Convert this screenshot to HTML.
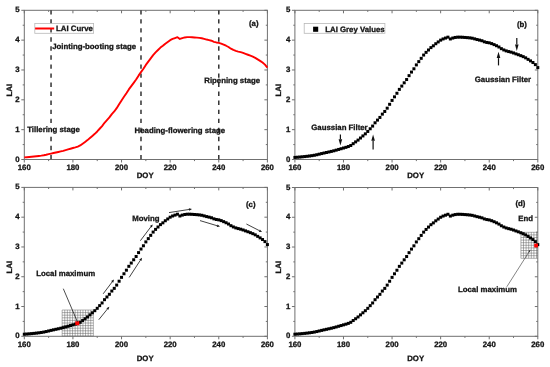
<!DOCTYPE html>
<html><head><meta charset="utf-8"><style>
html,body{margin:0;padding:0;background:#fff;}
svg{display:block;filter:blur(0.45px);}
text{font-family:"Liberation Sans",sans-serif;font-weight:bold;font-size:7.8px;fill:#141414;stroke:#141414;stroke-width:0.3px;text-rendering:geometricPrecision;}
</style></head><body>
<svg width="550" height="367" viewBox="0 0 550 367">
<rect width="550" height="367" fill="#fff"/>
<rect x="24.30" y="10.30" width="243.10" height="149.20" fill="none" stroke="#707070" stroke-width="1"/>
<line x1="24.30" y1="159.50" x2="24.30" y2="162.50" stroke="#707070" stroke-width="1" />
<line x1="24.30" y1="10.30" x2="24.30" y2="13.30" stroke="#707070" stroke-width="1" />
<text x="24.30" y="169.80" text-anchor="middle" >160</text>
<line x1="48.61" y1="159.50" x2="48.61" y2="161.10" stroke="#707070" stroke-width="1" />
<line x1="48.61" y1="10.30" x2="48.61" y2="11.90" stroke="#707070" stroke-width="1" />
<line x1="72.92" y1="159.50" x2="72.92" y2="162.50" stroke="#707070" stroke-width="1" />
<line x1="72.92" y1="10.30" x2="72.92" y2="13.30" stroke="#707070" stroke-width="1" />
<text x="72.92" y="169.80" text-anchor="middle" >180</text>
<line x1="97.23" y1="159.50" x2="97.23" y2="161.10" stroke="#707070" stroke-width="1" />
<line x1="97.23" y1="10.30" x2="97.23" y2="11.90" stroke="#707070" stroke-width="1" />
<line x1="121.54" y1="159.50" x2="121.54" y2="162.50" stroke="#707070" stroke-width="1" />
<line x1="121.54" y1="10.30" x2="121.54" y2="13.30" stroke="#707070" stroke-width="1" />
<text x="121.54" y="169.80" text-anchor="middle" >200</text>
<line x1="145.85" y1="159.50" x2="145.85" y2="161.10" stroke="#707070" stroke-width="1" />
<line x1="145.85" y1="10.30" x2="145.85" y2="11.90" stroke="#707070" stroke-width="1" />
<line x1="170.16" y1="159.50" x2="170.16" y2="162.50" stroke="#707070" stroke-width="1" />
<line x1="170.16" y1="10.30" x2="170.16" y2="13.30" stroke="#707070" stroke-width="1" />
<text x="170.16" y="169.80" text-anchor="middle" >220</text>
<line x1="194.47" y1="159.50" x2="194.47" y2="161.10" stroke="#707070" stroke-width="1" />
<line x1="194.47" y1="10.30" x2="194.47" y2="11.90" stroke="#707070" stroke-width="1" />
<line x1="218.78" y1="159.50" x2="218.78" y2="162.50" stroke="#707070" stroke-width="1" />
<line x1="218.78" y1="10.30" x2="218.78" y2="13.30" stroke="#707070" stroke-width="1" />
<text x="218.78" y="169.80" text-anchor="middle" >240</text>
<line x1="243.09" y1="159.50" x2="243.09" y2="161.10" stroke="#707070" stroke-width="1" />
<line x1="243.09" y1="10.30" x2="243.09" y2="11.90" stroke="#707070" stroke-width="1" />
<line x1="267.40" y1="159.50" x2="267.40" y2="162.50" stroke="#707070" stroke-width="1" />
<line x1="267.40" y1="10.30" x2="267.40" y2="13.30" stroke="#707070" stroke-width="1" />
<text x="267.40" y="169.80" text-anchor="middle" >260</text>
<line x1="21.30" y1="159.50" x2="24.30" y2="159.50" stroke="#707070" stroke-width="1" />
<line x1="264.40" y1="159.50" x2="267.40" y2="159.50" stroke="#707070" stroke-width="1" />
<text x="19.70" y="161.55" text-anchor="end" >0</text>
<line x1="22.70" y1="144.58" x2="24.30" y2="144.58" stroke="#707070" stroke-width="1" />
<line x1="265.80" y1="144.58" x2="267.40" y2="144.58" stroke="#707070" stroke-width="1" />
<line x1="21.30" y1="129.66" x2="24.30" y2="129.66" stroke="#707070" stroke-width="1" />
<line x1="264.40" y1="129.66" x2="267.40" y2="129.66" stroke="#707070" stroke-width="1" />
<text x="19.70" y="131.71" text-anchor="end" >1</text>
<line x1="22.70" y1="114.74" x2="24.30" y2="114.74" stroke="#707070" stroke-width="1" />
<line x1="265.80" y1="114.74" x2="267.40" y2="114.74" stroke="#707070" stroke-width="1" />
<line x1="21.30" y1="99.82" x2="24.30" y2="99.82" stroke="#707070" stroke-width="1" />
<line x1="264.40" y1="99.82" x2="267.40" y2="99.82" stroke="#707070" stroke-width="1" />
<text x="19.70" y="101.87" text-anchor="end" >2</text>
<line x1="22.70" y1="84.90" x2="24.30" y2="84.90" stroke="#707070" stroke-width="1" />
<line x1="265.80" y1="84.90" x2="267.40" y2="84.90" stroke="#707070" stroke-width="1" />
<line x1="21.30" y1="69.98" x2="24.30" y2="69.98" stroke="#707070" stroke-width="1" />
<line x1="264.40" y1="69.98" x2="267.40" y2="69.98" stroke="#707070" stroke-width="1" />
<text x="19.70" y="72.03" text-anchor="end" >3</text>
<line x1="22.70" y1="55.06" x2="24.30" y2="55.06" stroke="#707070" stroke-width="1" />
<line x1="265.80" y1="55.06" x2="267.40" y2="55.06" stroke="#707070" stroke-width="1" />
<line x1="21.30" y1="40.14" x2="24.30" y2="40.14" stroke="#707070" stroke-width="1" />
<line x1="264.40" y1="40.14" x2="267.40" y2="40.14" stroke="#707070" stroke-width="1" />
<text x="19.70" y="42.19" text-anchor="end" >4</text>
<line x1="22.70" y1="25.22" x2="24.30" y2="25.22" stroke="#707070" stroke-width="1" />
<line x1="265.80" y1="25.22" x2="267.40" y2="25.22" stroke="#707070" stroke-width="1" />
<line x1="21.30" y1="10.30" x2="24.30" y2="10.30" stroke="#707070" stroke-width="1" />
<line x1="264.40" y1="10.30" x2="267.40" y2="10.30" stroke="#707070" stroke-width="1" />
<text x="19.70" y="12.35" text-anchor="end" >5</text>
<text x="145.15" y="178.10" text-anchor="middle" >DOY</text>
<text x="0" y="0" text-anchor="middle" transform="translate(12.10,90.20) rotate(-90)">LAI</text>
<line x1="51.04" y1="10.30" x2="51.04" y2="159.50" stroke="#333" stroke-width="1.5" stroke-dasharray="4.4 4.65" stroke-dashoffset="0.2"/>
<line x1="140.99" y1="10.30" x2="140.99" y2="159.50" stroke="#333" stroke-width="1.5" stroke-dasharray="4.4 4.65" stroke-dashoffset="0.2"/>
<line x1="218.78" y1="10.30" x2="218.78" y2="159.50" stroke="#333" stroke-width="1.5" stroke-dasharray="4.4 4.65" stroke-dashoffset="0.2"/>
<polyline points="24.30,157.41 26.73,157.24 29.16,157.04 31.59,156.81 34.02,156.57 36.45,156.30 38.89,156.00 41.32,155.66 43.75,155.26 46.18,154.75 48.61,154.17 51.04,153.57 53.47,153.02 55.90,152.49 58.33,151.96 60.77,151.41 63.20,150.81 65.63,150.14 68.06,149.44 70.49,148.73 72.92,148.02 75.35,147.35 77.78,146.54 80.21,145.48 82.64,143.68 85.07,141.89 87.51,140.10 89.94,138.02 92.37,135.93 94.80,133.84 97.23,131.45 99.66,128.76 102.09,126.08 104.52,122.80 106.95,120.11 109.38,117.43 111.82,114.14 114.25,111.46 116.68,108.18 119.11,104.30 121.54,100.42 123.97,96.84 126.40,93.26 128.83,89.38 131.26,86.09 133.69,82.81 136.13,79.53 138.56,75.65 140.99,72.07 143.42,68.79 145.85,64.91 148.28,61.62 150.71,58.34 153.14,55.06 155.57,52.37 158.00,49.99 160.44,47.60 162.87,45.81 165.30,43.72 167.73,41.93 170.16,40.14 172.59,38.95 175.02,38.05 177.45,37.16 179.88,38.95 182.31,38.05 184.75,37.45 187.18,37.16 189.61,37.16 192.04,37.26 194.47,37.45 196.90,37.64 199.33,37.87 201.76,38.22 204.19,38.86 206.62,39.54 209.06,40.10 211.49,40.74 213.92,41.80 216.35,42.45 218.78,42.83 221.21,43.60 223.64,44.62 226.07,45.72 228.50,47.00 230.93,48.66 233.37,49.93 235.80,50.88 238.23,51.56 240.66,52.16 243.09,52.96 245.52,53.87 247.95,54.74 250.38,55.66 252.81,56.65 255.24,57.84 257.68,59.35 260.11,60.89 262.54,62.52 264.97,64.61 267.40,67.59" fill="none" stroke="#ff0000" stroke-width="1.9" stroke-linejoin="round"/>
<rect x="34.8" y="23.5" width="58.8" height="9.8" fill="none" stroke="#b8b8b8" stroke-width="0.8"/>
<line x1="35.10" y1="28.50" x2="54.20" y2="28.50" stroke="#ff0000" stroke-width="2" />
<text x="56.10" y="31.40" text-anchor="start" >LAI Curve</text>
<text x="52.20" y="49.10" text-anchor="start" >Jointing-booting stage</text>
<rect x="27" y="126" width="53" height="8.5" fill="#fff"/>
<text x="27.20" y="132.30" text-anchor="start" >Tillering stage</text>
<text x="134.60" y="132.50" text-anchor="start" >Heading-flowering stage</text>
<text x="204.30" y="82.90" text-anchor="start" >Ripening stage</text>
<text x="249.00" y="25.50" text-anchor="start" >(a)</text>
<rect x="294.90" y="10.30" width="242.90" height="149.20" fill="none" stroke="#707070" stroke-width="1"/>
<line x1="294.90" y1="159.50" x2="294.90" y2="162.50" stroke="#707070" stroke-width="1" />
<line x1="294.90" y1="10.30" x2="294.90" y2="13.30" stroke="#707070" stroke-width="1" />
<text x="294.90" y="169.80" text-anchor="middle" >160</text>
<line x1="319.19" y1="159.50" x2="319.19" y2="161.10" stroke="#707070" stroke-width="1" />
<line x1="319.19" y1="10.30" x2="319.19" y2="11.90" stroke="#707070" stroke-width="1" />
<line x1="343.48" y1="159.50" x2="343.48" y2="162.50" stroke="#707070" stroke-width="1" />
<line x1="343.48" y1="10.30" x2="343.48" y2="13.30" stroke="#707070" stroke-width="1" />
<text x="343.48" y="169.80" text-anchor="middle" >180</text>
<line x1="367.77" y1="159.50" x2="367.77" y2="161.10" stroke="#707070" stroke-width="1" />
<line x1="367.77" y1="10.30" x2="367.77" y2="11.90" stroke="#707070" stroke-width="1" />
<line x1="392.06" y1="159.50" x2="392.06" y2="162.50" stroke="#707070" stroke-width="1" />
<line x1="392.06" y1="10.30" x2="392.06" y2="13.30" stroke="#707070" stroke-width="1" />
<text x="392.06" y="169.80" text-anchor="middle" >200</text>
<line x1="416.35" y1="159.50" x2="416.35" y2="161.10" stroke="#707070" stroke-width="1" />
<line x1="416.35" y1="10.30" x2="416.35" y2="11.90" stroke="#707070" stroke-width="1" />
<line x1="440.64" y1="159.50" x2="440.64" y2="162.50" stroke="#707070" stroke-width="1" />
<line x1="440.64" y1="10.30" x2="440.64" y2="13.30" stroke="#707070" stroke-width="1" />
<text x="440.64" y="169.80" text-anchor="middle" >220</text>
<line x1="464.93" y1="159.50" x2="464.93" y2="161.10" stroke="#707070" stroke-width="1" />
<line x1="464.93" y1="10.30" x2="464.93" y2="11.90" stroke="#707070" stroke-width="1" />
<line x1="489.22" y1="159.50" x2="489.22" y2="162.50" stroke="#707070" stroke-width="1" />
<line x1="489.22" y1="10.30" x2="489.22" y2="13.30" stroke="#707070" stroke-width="1" />
<text x="489.22" y="169.80" text-anchor="middle" >240</text>
<line x1="513.51" y1="159.50" x2="513.51" y2="161.10" stroke="#707070" stroke-width="1" />
<line x1="513.51" y1="10.30" x2="513.51" y2="11.90" stroke="#707070" stroke-width="1" />
<line x1="537.80" y1="159.50" x2="537.80" y2="162.50" stroke="#707070" stroke-width="1" />
<line x1="537.80" y1="10.30" x2="537.80" y2="13.30" stroke="#707070" stroke-width="1" />
<text x="537.80" y="169.80" text-anchor="middle" >260</text>
<line x1="291.90" y1="159.50" x2="294.90" y2="159.50" stroke="#707070" stroke-width="1" />
<line x1="534.80" y1="159.50" x2="537.80" y2="159.50" stroke="#707070" stroke-width="1" />
<text x="290.30" y="161.55" text-anchor="end" >0</text>
<line x1="293.30" y1="144.58" x2="294.90" y2="144.58" stroke="#707070" stroke-width="1" />
<line x1="536.20" y1="144.58" x2="537.80" y2="144.58" stroke="#707070" stroke-width="1" />
<line x1="291.90" y1="129.66" x2="294.90" y2="129.66" stroke="#707070" stroke-width="1" />
<line x1="534.80" y1="129.66" x2="537.80" y2="129.66" stroke="#707070" stroke-width="1" />
<text x="290.30" y="131.71" text-anchor="end" >1</text>
<line x1="293.30" y1="114.74" x2="294.90" y2="114.74" stroke="#707070" stroke-width="1" />
<line x1="536.20" y1="114.74" x2="537.80" y2="114.74" stroke="#707070" stroke-width="1" />
<line x1="291.90" y1="99.82" x2="294.90" y2="99.82" stroke="#707070" stroke-width="1" />
<line x1="534.80" y1="99.82" x2="537.80" y2="99.82" stroke="#707070" stroke-width="1" />
<text x="290.30" y="101.87" text-anchor="end" >2</text>
<line x1="293.30" y1="84.90" x2="294.90" y2="84.90" stroke="#707070" stroke-width="1" />
<line x1="536.20" y1="84.90" x2="537.80" y2="84.90" stroke="#707070" stroke-width="1" />
<line x1="291.90" y1="69.98" x2="294.90" y2="69.98" stroke="#707070" stroke-width="1" />
<line x1="534.80" y1="69.98" x2="537.80" y2="69.98" stroke="#707070" stroke-width="1" />
<text x="290.30" y="72.03" text-anchor="end" >3</text>
<line x1="293.30" y1="55.06" x2="294.90" y2="55.06" stroke="#707070" stroke-width="1" />
<line x1="536.20" y1="55.06" x2="537.80" y2="55.06" stroke="#707070" stroke-width="1" />
<line x1="291.90" y1="40.14" x2="294.90" y2="40.14" stroke="#707070" stroke-width="1" />
<line x1="534.80" y1="40.14" x2="537.80" y2="40.14" stroke="#707070" stroke-width="1" />
<text x="290.30" y="42.19" text-anchor="end" >4</text>
<line x1="293.30" y1="25.22" x2="294.90" y2="25.22" stroke="#707070" stroke-width="1" />
<line x1="536.20" y1="25.22" x2="537.80" y2="25.22" stroke="#707070" stroke-width="1" />
<line x1="291.90" y1="10.30" x2="294.90" y2="10.30" stroke="#707070" stroke-width="1" />
<line x1="534.80" y1="10.30" x2="537.80" y2="10.30" stroke="#707070" stroke-width="1" />
<text x="290.30" y="12.35" text-anchor="end" >5</text>
<text x="415.65" y="178.10" text-anchor="middle" >DOY</text>
<text x="0" y="0" text-anchor="middle" transform="translate(281.20,90.20) rotate(-90)">LAI</text>
<rect x="293.40" y="155.91" width="3.0" height="3.0"/>
<rect x="295.83" y="155.74" width="3.0" height="3.0"/>
<rect x="298.26" y="155.54" width="3.0" height="3.0"/>
<rect x="300.69" y="155.31" width="3.0" height="3.0"/>
<rect x="303.12" y="155.07" width="3.0" height="3.0"/>
<rect x="305.54" y="154.80" width="3.0" height="3.0"/>
<rect x="307.97" y="154.50" width="3.0" height="3.0"/>
<rect x="310.40" y="154.16" width="3.0" height="3.0"/>
<rect x="312.83" y="153.76" width="3.0" height="3.0"/>
<rect x="315.26" y="153.25" width="3.0" height="3.0"/>
<rect x="317.69" y="152.67" width="3.0" height="3.0"/>
<rect x="320.12" y="152.07" width="3.0" height="3.0"/>
<rect x="322.55" y="151.52" width="3.0" height="3.0"/>
<rect x="324.98" y="150.99" width="3.0" height="3.0"/>
<rect x="327.41" y="150.46" width="3.0" height="3.0"/>
<rect x="329.83" y="149.91" width="3.0" height="3.0"/>
<rect x="332.26" y="149.31" width="3.0" height="3.0"/>
<rect x="334.69" y="148.64" width="3.0" height="3.0"/>
<rect x="337.12" y="147.94" width="3.0" height="3.0"/>
<rect x="339.55" y="147.23" width="3.0" height="3.0"/>
<rect x="341.98" y="146.52" width="3.0" height="3.0"/>
<rect x="344.41" y="145.85" width="3.0" height="3.0"/>
<rect x="346.84" y="145.04" width="3.0" height="3.0"/>
<rect x="349.27" y="143.98" width="3.0" height="3.0"/>
<rect x="351.70" y="142.18" width="3.0" height="3.0"/>
<rect x="354.12" y="140.39" width="3.0" height="3.0"/>
<rect x="356.55" y="138.60" width="3.0" height="3.0"/>
<rect x="358.98" y="136.52" width="3.0" height="3.0"/>
<rect x="361.41" y="134.43" width="3.0" height="3.0"/>
<rect x="363.84" y="132.34" width="3.0" height="3.0"/>
<rect x="366.27" y="129.95" width="3.0" height="3.0"/>
<rect x="368.70" y="127.26" width="3.0" height="3.0"/>
<rect x="371.13" y="124.58" width="3.0" height="3.0"/>
<rect x="373.56" y="121.30" width="3.0" height="3.0"/>
<rect x="375.99" y="118.61" width="3.0" height="3.0"/>
<rect x="378.41" y="115.93" width="3.0" height="3.0"/>
<rect x="380.84" y="112.64" width="3.0" height="3.0"/>
<rect x="383.27" y="109.96" width="3.0" height="3.0"/>
<rect x="385.70" y="106.68" width="3.0" height="3.0"/>
<rect x="388.13" y="102.80" width="3.0" height="3.0"/>
<rect x="390.56" y="98.92" width="3.0" height="3.0"/>
<rect x="392.99" y="95.34" width="3.0" height="3.0"/>
<rect x="395.42" y="91.76" width="3.0" height="3.0"/>
<rect x="397.85" y="87.88" width="3.0" height="3.0"/>
<rect x="400.28" y="84.59" width="3.0" height="3.0"/>
<rect x="402.70" y="81.31" width="3.0" height="3.0"/>
<rect x="405.13" y="78.03" width="3.0" height="3.0"/>
<rect x="407.56" y="74.15" width="3.0" height="3.0"/>
<rect x="409.99" y="70.57" width="3.0" height="3.0"/>
<rect x="412.42" y="67.29" width="3.0" height="3.0"/>
<rect x="414.85" y="63.41" width="3.0" height="3.0"/>
<rect x="417.28" y="60.12" width="3.0" height="3.0"/>
<rect x="419.71" y="56.84" width="3.0" height="3.0"/>
<rect x="422.14" y="53.56" width="3.0" height="3.0"/>
<rect x="424.57" y="50.87" width="3.0" height="3.0"/>
<rect x="427.00" y="48.49" width="3.0" height="3.0"/>
<rect x="429.42" y="46.10" width="3.0" height="3.0"/>
<rect x="431.85" y="44.31" width="3.0" height="3.0"/>
<rect x="434.28" y="42.22" width="3.0" height="3.0"/>
<rect x="436.71" y="40.43" width="3.0" height="3.0"/>
<rect x="439.14" y="38.64" width="3.0" height="3.0"/>
<rect x="441.57" y="37.45" width="3.0" height="3.0"/>
<rect x="444.00" y="36.55" width="3.0" height="3.0"/>
<rect x="446.43" y="35.66" width="3.0" height="3.0"/>
<rect x="448.86" y="37.45" width="3.0" height="3.0"/>
<rect x="451.28" y="36.55" width="3.0" height="3.0"/>
<rect x="453.71" y="35.95" width="3.0" height="3.0"/>
<rect x="456.14" y="35.66" width="3.0" height="3.0"/>
<rect x="458.57" y="35.66" width="3.0" height="3.0"/>
<rect x="461.00" y="35.76" width="3.0" height="3.0"/>
<rect x="463.43" y="35.95" width="3.0" height="3.0"/>
<rect x="465.86" y="36.14" width="3.0" height="3.0"/>
<rect x="468.29" y="36.37" width="3.0" height="3.0"/>
<rect x="470.72" y="36.72" width="3.0" height="3.0"/>
<rect x="473.15" y="37.36" width="3.0" height="3.0"/>
<rect x="475.57" y="38.04" width="3.0" height="3.0"/>
<rect x="478.00" y="38.60" width="3.0" height="3.0"/>
<rect x="480.43" y="39.24" width="3.0" height="3.0"/>
<rect x="482.86" y="40.30" width="3.0" height="3.0"/>
<rect x="485.29" y="40.95" width="3.0" height="3.0"/>
<rect x="487.72" y="41.33" width="3.0" height="3.0"/>
<rect x="490.15" y="42.10" width="3.0" height="3.0"/>
<rect x="492.58" y="43.12" width="3.0" height="3.0"/>
<rect x="495.01" y="44.22" width="3.0" height="3.0"/>
<rect x="497.44" y="45.50" width="3.0" height="3.0"/>
<rect x="499.86" y="47.16" width="3.0" height="3.0"/>
<rect x="502.29" y="48.43" width="3.0" height="3.0"/>
<rect x="504.72" y="49.38" width="3.0" height="3.0"/>
<rect x="507.15" y="50.06" width="3.0" height="3.0"/>
<rect x="509.58" y="50.66" width="3.0" height="3.0"/>
<rect x="512.01" y="51.46" width="3.0" height="3.0"/>
<rect x="514.44" y="52.37" width="3.0" height="3.0"/>
<rect x="516.87" y="53.24" width="3.0" height="3.0"/>
<rect x="519.30" y="54.16" width="3.0" height="3.0"/>
<rect x="521.73" y="55.15" width="3.0" height="3.0"/>
<rect x="524.15" y="56.34" width="3.0" height="3.0"/>
<rect x="526.58" y="57.85" width="3.0" height="3.0"/>
<rect x="529.01" y="59.39" width="3.0" height="3.0"/>
<rect x="531.44" y="61.02" width="3.0" height="3.0"/>
<rect x="533.87" y="63.11" width="3.0" height="3.0"/>
<rect x="536.30" y="66.09" width="3.0" height="3.0"/>
<rect x="304.2" y="23.5" width="80.7" height="9.8" fill="none" stroke="#b8b8b8" stroke-width="0.8"/>
<rect x="313.1" y="26.7" width="5.1" height="5.1" fill="#000"/>
<text x="325.30" y="31.50" text-anchor="start" >LAI Grey Values</text>
<text x="311.30" y="129.60" text-anchor="start" >Gaussian Filter</text>
<text x="474.80" y="82.30" text-anchor="start" >Gaussian Filter</text>
<text x="517.00" y="26.55" text-anchor="start" >(b)</text>
<line x1="340.40" y1="134.50" x2="340.40" y2="139.20" stroke="#111" stroke-width="1.2" />
<polygon points="340.40,145.50 338.60,139.20 342.20,139.20" fill="#111"/>
<line x1="373.10" y1="149.60" x2="373.10" y2="140.80" stroke="#111" stroke-width="1.2" />
<polygon points="373.10,134.50 374.90,140.80 371.30,140.80" fill="#111"/>
<line x1="498.50" y1="65.40" x2="498.50" y2="58.10" stroke="#111" stroke-width="1.2" />
<polygon points="498.50,51.80 500.30,58.10 496.70,58.10" fill="#111"/>
<line x1="516.80" y1="38.10" x2="516.80" y2="44.60" stroke="#111" stroke-width="1.2" />
<polygon points="516.80,50.90 515.00,44.60 518.60,44.60" fill="#111"/>
<rect x="24.30" y="187.40" width="243.10" height="148.90" fill="none" stroke="#707070" stroke-width="1"/>
<line x1="24.30" y1="336.30" x2="24.30" y2="339.30" stroke="#707070" stroke-width="1" />
<line x1="24.30" y1="187.40" x2="24.30" y2="190.40" stroke="#707070" stroke-width="1" />
<text x="24.30" y="346.60" text-anchor="middle" >160</text>
<line x1="48.61" y1="336.30" x2="48.61" y2="337.90" stroke="#707070" stroke-width="1" />
<line x1="48.61" y1="187.40" x2="48.61" y2="189.00" stroke="#707070" stroke-width="1" />
<line x1="72.92" y1="336.30" x2="72.92" y2="339.30" stroke="#707070" stroke-width="1" />
<line x1="72.92" y1="187.40" x2="72.92" y2="190.40" stroke="#707070" stroke-width="1" />
<text x="72.92" y="346.60" text-anchor="middle" >180</text>
<line x1="97.23" y1="336.30" x2="97.23" y2="337.90" stroke="#707070" stroke-width="1" />
<line x1="97.23" y1="187.40" x2="97.23" y2="189.00" stroke="#707070" stroke-width="1" />
<line x1="121.54" y1="336.30" x2="121.54" y2="339.30" stroke="#707070" stroke-width="1" />
<line x1="121.54" y1="187.40" x2="121.54" y2="190.40" stroke="#707070" stroke-width="1" />
<text x="121.54" y="346.60" text-anchor="middle" >200</text>
<line x1="145.85" y1="336.30" x2="145.85" y2="337.90" stroke="#707070" stroke-width="1" />
<line x1="145.85" y1="187.40" x2="145.85" y2="189.00" stroke="#707070" stroke-width="1" />
<line x1="170.16" y1="336.30" x2="170.16" y2="339.30" stroke="#707070" stroke-width="1" />
<line x1="170.16" y1="187.40" x2="170.16" y2="190.40" stroke="#707070" stroke-width="1" />
<text x="170.16" y="346.60" text-anchor="middle" >220</text>
<line x1="194.47" y1="336.30" x2="194.47" y2="337.90" stroke="#707070" stroke-width="1" />
<line x1="194.47" y1="187.40" x2="194.47" y2="189.00" stroke="#707070" stroke-width="1" />
<line x1="218.78" y1="336.30" x2="218.78" y2="339.30" stroke="#707070" stroke-width="1" />
<line x1="218.78" y1="187.40" x2="218.78" y2="190.40" stroke="#707070" stroke-width="1" />
<text x="218.78" y="346.60" text-anchor="middle" >240</text>
<line x1="243.09" y1="336.30" x2="243.09" y2="337.90" stroke="#707070" stroke-width="1" />
<line x1="243.09" y1="187.40" x2="243.09" y2="189.00" stroke="#707070" stroke-width="1" />
<line x1="267.40" y1="336.30" x2="267.40" y2="339.30" stroke="#707070" stroke-width="1" />
<line x1="267.40" y1="187.40" x2="267.40" y2="190.40" stroke="#707070" stroke-width="1" />
<text x="267.40" y="346.60" text-anchor="middle" >260</text>
<line x1="21.30" y1="336.30" x2="24.30" y2="336.30" stroke="#707070" stroke-width="1" />
<line x1="264.40" y1="336.30" x2="267.40" y2="336.30" stroke="#707070" stroke-width="1" />
<text x="19.70" y="338.35" text-anchor="end" >0</text>
<line x1="22.70" y1="321.41" x2="24.30" y2="321.41" stroke="#707070" stroke-width="1" />
<line x1="265.80" y1="321.41" x2="267.40" y2="321.41" stroke="#707070" stroke-width="1" />
<line x1="21.30" y1="306.52" x2="24.30" y2="306.52" stroke="#707070" stroke-width="1" />
<line x1="264.40" y1="306.52" x2="267.40" y2="306.52" stroke="#707070" stroke-width="1" />
<text x="19.70" y="308.57" text-anchor="end" >1</text>
<line x1="22.70" y1="291.63" x2="24.30" y2="291.63" stroke="#707070" stroke-width="1" />
<line x1="265.80" y1="291.63" x2="267.40" y2="291.63" stroke="#707070" stroke-width="1" />
<line x1="21.30" y1="276.74" x2="24.30" y2="276.74" stroke="#707070" stroke-width="1" />
<line x1="264.40" y1="276.74" x2="267.40" y2="276.74" stroke="#707070" stroke-width="1" />
<text x="19.70" y="278.79" text-anchor="end" >2</text>
<line x1="22.70" y1="261.85" x2="24.30" y2="261.85" stroke="#707070" stroke-width="1" />
<line x1="265.80" y1="261.85" x2="267.40" y2="261.85" stroke="#707070" stroke-width="1" />
<line x1="21.30" y1="246.96" x2="24.30" y2="246.96" stroke="#707070" stroke-width="1" />
<line x1="264.40" y1="246.96" x2="267.40" y2="246.96" stroke="#707070" stroke-width="1" />
<text x="19.70" y="249.01" text-anchor="end" >3</text>
<line x1="22.70" y1="232.07" x2="24.30" y2="232.07" stroke="#707070" stroke-width="1" />
<line x1="265.80" y1="232.07" x2="267.40" y2="232.07" stroke="#707070" stroke-width="1" />
<line x1="21.30" y1="217.18" x2="24.30" y2="217.18" stroke="#707070" stroke-width="1" />
<line x1="264.40" y1="217.18" x2="267.40" y2="217.18" stroke="#707070" stroke-width="1" />
<text x="19.70" y="219.23" text-anchor="end" >4</text>
<line x1="22.70" y1="202.29" x2="24.30" y2="202.29" stroke="#707070" stroke-width="1" />
<line x1="265.80" y1="202.29" x2="267.40" y2="202.29" stroke="#707070" stroke-width="1" />
<line x1="21.30" y1="187.40" x2="24.30" y2="187.40" stroke="#707070" stroke-width="1" />
<line x1="264.40" y1="187.40" x2="267.40" y2="187.40" stroke="#707070" stroke-width="1" />
<text x="19.70" y="189.45" text-anchor="end" >5</text>
<text x="145.15" y="361.30" text-anchor="middle" >DOY</text>
<text x="0" y="0" text-anchor="middle" transform="translate(12.10,267.15) rotate(-90)">LAI</text>
<g stroke="#606060" stroke-width="0.5"><line x1="62.15" y1="310.00" x2="62.15" y2="336.00"/><line x1="64.75" y1="310.00" x2="64.75" y2="336.00"/><line x1="67.35" y1="310.00" x2="67.35" y2="336.00"/><line x1="69.95" y1="310.00" x2="69.95" y2="336.00"/><line x1="72.55" y1="310.00" x2="72.55" y2="336.00"/><line x1="75.15" y1="310.00" x2="75.15" y2="336.00"/><line x1="77.75" y1="310.00" x2="77.75" y2="336.00"/><line x1="80.35" y1="310.00" x2="80.35" y2="336.00"/><line x1="82.95" y1="310.00" x2="82.95" y2="336.00"/><line x1="85.55" y1="310.00" x2="85.55" y2="336.00"/><line x1="88.15" y1="310.00" x2="88.15" y2="336.00"/><line x1="90.75" y1="310.00" x2="90.75" y2="336.00"/><line x1="93.35" y1="310.00" x2="93.35" y2="336.00"/><line x1="62.15" y1="310.00" x2="93.35" y2="310.00"/><line x1="62.15" y1="312.60" x2="93.35" y2="312.60"/><line x1="62.15" y1="315.20" x2="93.35" y2="315.20"/><line x1="62.15" y1="317.80" x2="93.35" y2="317.80"/><line x1="62.15" y1="320.40" x2="93.35" y2="320.40"/><line x1="62.15" y1="323.00" x2="93.35" y2="323.00"/><line x1="62.15" y1="325.60" x2="93.35" y2="325.60"/><line x1="62.15" y1="328.20" x2="93.35" y2="328.20"/><line x1="62.15" y1="330.80" x2="93.35" y2="330.80"/><line x1="62.15" y1="333.40" x2="93.35" y2="333.40"/><line x1="62.15" y1="336.00" x2="93.35" y2="336.00"/></g>
<rect x="22.80" y="332.72" width="3.0" height="3.0"/>
<rect x="25.23" y="332.54" width="3.0" height="3.0"/>
<rect x="27.66" y="332.34" width="3.0" height="3.0"/>
<rect x="30.09" y="332.12" width="3.0" height="3.0"/>
<rect x="32.52" y="331.88" width="3.0" height="3.0"/>
<rect x="34.95" y="331.61" width="3.0" height="3.0"/>
<rect x="37.39" y="331.31" width="3.0" height="3.0"/>
<rect x="39.82" y="330.97" width="3.0" height="3.0"/>
<rect x="42.25" y="330.57" width="3.0" height="3.0"/>
<rect x="44.68" y="330.06" width="3.0" height="3.0"/>
<rect x="47.11" y="329.48" width="3.0" height="3.0"/>
<rect x="49.54" y="328.88" width="3.0" height="3.0"/>
<rect x="51.97" y="328.33" width="3.0" height="3.0"/>
<rect x="54.40" y="327.80" width="3.0" height="3.0"/>
<rect x="56.83" y="327.28" width="3.0" height="3.0"/>
<rect x="59.27" y="326.72" width="3.0" height="3.0"/>
<rect x="61.70" y="326.13" width="3.0" height="3.0"/>
<rect x="64.13" y="325.46" width="3.0" height="3.0"/>
<rect x="66.56" y="324.76" width="3.0" height="3.0"/>
<rect x="68.99" y="324.05" width="3.0" height="3.0"/>
<rect x="71.42" y="323.35" width="3.0" height="3.0"/>
<rect x="73.85" y="322.67" width="3.0" height="3.0"/>
<rect x="76.28" y="321.87" width="3.0" height="3.0"/>
<rect x="78.71" y="320.80" width="3.0" height="3.0"/>
<rect x="81.14" y="319.02" width="3.0" height="3.0"/>
<rect x="83.57" y="317.23" width="3.0" height="3.0"/>
<rect x="86.01" y="315.44" width="3.0" height="3.0"/>
<rect x="88.44" y="313.36" width="3.0" height="3.0"/>
<rect x="90.87" y="311.27" width="3.0" height="3.0"/>
<rect x="93.30" y="309.19" width="3.0" height="3.0"/>
<rect x="95.73" y="306.81" width="3.0" height="3.0"/>
<rect x="98.16" y="304.13" width="3.0" height="3.0"/>
<rect x="100.59" y="301.45" width="3.0" height="3.0"/>
<rect x="103.02" y="298.17" width="3.0" height="3.0"/>
<rect x="105.45" y="295.49" width="3.0" height="3.0"/>
<rect x="107.88" y="292.81" width="3.0" height="3.0"/>
<rect x="110.32" y="289.53" width="3.0" height="3.0"/>
<rect x="112.75" y="286.85" width="3.0" height="3.0"/>
<rect x="115.18" y="283.58" width="3.0" height="3.0"/>
<rect x="117.61" y="279.71" width="3.0" height="3.0"/>
<rect x="120.04" y="275.84" width="3.0" height="3.0"/>
<rect x="122.47" y="272.26" width="3.0" height="3.0"/>
<rect x="124.90" y="268.69" width="3.0" height="3.0"/>
<rect x="127.33" y="264.82" width="3.0" height="3.0"/>
<rect x="129.76" y="261.54" width="3.0" height="3.0"/>
<rect x="132.19" y="258.27" width="3.0" height="3.0"/>
<rect x="134.63" y="254.99" width="3.0" height="3.0"/>
<rect x="137.06" y="251.12" width="3.0" height="3.0"/>
<rect x="139.49" y="247.54" width="3.0" height="3.0"/>
<rect x="141.92" y="244.27" width="3.0" height="3.0"/>
<rect x="144.35" y="240.40" width="3.0" height="3.0"/>
<rect x="146.78" y="237.12" width="3.0" height="3.0"/>
<rect x="149.21" y="233.85" width="3.0" height="3.0"/>
<rect x="151.64" y="230.57" width="3.0" height="3.0"/>
<rect x="154.07" y="227.89" width="3.0" height="3.0"/>
<rect x="156.50" y="225.51" width="3.0" height="3.0"/>
<rect x="158.94" y="223.12" width="3.0" height="3.0"/>
<rect x="161.37" y="221.34" width="3.0" height="3.0"/>
<rect x="163.80" y="219.25" width="3.0" height="3.0"/>
<rect x="166.23" y="217.47" width="3.0" height="3.0"/>
<rect x="168.66" y="215.68" width="3.0" height="3.0"/>
<rect x="171.09" y="214.49" width="3.0" height="3.0"/>
<rect x="173.52" y="213.60" width="3.0" height="3.0"/>
<rect x="175.95" y="212.70" width="3.0" height="3.0"/>
<rect x="178.38" y="214.49" width="3.0" height="3.0"/>
<rect x="180.81" y="213.60" width="3.0" height="3.0"/>
<rect x="183.25" y="213.00" width="3.0" height="3.0"/>
<rect x="185.68" y="212.70" width="3.0" height="3.0"/>
<rect x="188.11" y="212.70" width="3.0" height="3.0"/>
<rect x="190.54" y="212.81" width="3.0" height="3.0"/>
<rect x="192.97" y="213.00" width="3.0" height="3.0"/>
<rect x="195.40" y="213.18" width="3.0" height="3.0"/>
<rect x="197.83" y="213.41" width="3.0" height="3.0"/>
<rect x="200.26" y="213.77" width="3.0" height="3.0"/>
<rect x="202.69" y="214.40" width="3.0" height="3.0"/>
<rect x="205.12" y="215.08" width="3.0" height="3.0"/>
<rect x="207.56" y="215.64" width="3.0" height="3.0"/>
<rect x="209.99" y="216.28" width="3.0" height="3.0"/>
<rect x="212.42" y="217.34" width="3.0" height="3.0"/>
<rect x="214.85" y="217.99" width="3.0" height="3.0"/>
<rect x="217.28" y="218.36" width="3.0" height="3.0"/>
<rect x="219.71" y="219.13" width="3.0" height="3.0"/>
<rect x="222.14" y="220.15" width="3.0" height="3.0"/>
<rect x="224.57" y="221.25" width="3.0" height="3.0"/>
<rect x="227.00" y="222.53" width="3.0" height="3.0"/>
<rect x="229.43" y="224.18" width="3.0" height="3.0"/>
<rect x="231.87" y="225.45" width="3.0" height="3.0"/>
<rect x="234.30" y="226.40" width="3.0" height="3.0"/>
<rect x="236.73" y="227.08" width="3.0" height="3.0"/>
<rect x="239.16" y="227.68" width="3.0" height="3.0"/>
<rect x="241.59" y="228.47" width="3.0" height="3.0"/>
<rect x="244.02" y="229.38" width="3.0" height="3.0"/>
<rect x="246.45" y="230.25" width="3.0" height="3.0"/>
<rect x="248.88" y="231.17" width="3.0" height="3.0"/>
<rect x="251.31" y="232.16" width="3.0" height="3.0"/>
<rect x="253.74" y="233.34" width="3.0" height="3.0"/>
<rect x="256.18" y="234.85" width="3.0" height="3.0"/>
<rect x="258.61" y="236.39" width="3.0" height="3.0"/>
<rect x="261.04" y="238.01" width="3.0" height="3.0"/>
<rect x="263.47" y="240.10" width="3.0" height="3.0"/>
<rect x="265.90" y="243.08" width="3.0" height="3.0"/>
<rect x="75.3" y="321.2" width="4" height="4" fill="#ff0000"/>
<line x1="63.30" y1="288.70" x2="77.40" y2="321.80" stroke="#111" stroke-width="0.75" />
<text x="36.20" y="276.20" text-anchor="start" >Local maximum</text>
<text x="132.20" y="221.30" text-anchor="start" >Moving</text>
<text x="246.00" y="206.60" text-anchor="start" >(c)</text>
<line x1="98.80" y1="319.70" x2="107.41" y2="309.03" stroke="#111" stroke-width="0.8" />
<polygon points="109.30,306.70 108.43,309.85 106.40,308.22" fill="#111"/>
<line x1="103.20" y1="293.80" x2="112.19" y2="281.89" stroke="#111" stroke-width="0.8" />
<polygon points="114.00,279.50 113.23,282.68 111.15,281.11" fill="#111"/>
<line x1="129.20" y1="277.40" x2="140.37" y2="260.22" stroke="#111" stroke-width="0.8" />
<polygon points="142.00,257.70 141.46,260.92 139.28,259.51" fill="#111"/>
<line x1="140.40" y1="240.70" x2="150.89" y2="226.79" stroke="#111" stroke-width="0.8" />
<polygon points="152.70,224.40 151.93,227.58 149.86,226.01" fill="#111"/>
<line x1="169.00" y1="212.60" x2="189.04" y2="209.46" stroke="#111" stroke-width="0.8" />
<polygon points="192.00,209.00 189.24,210.75 188.84,208.18" fill="#111"/>
<line x1="200.00" y1="220.60" x2="217.13" y2="225.74" stroke="#111" stroke-width="0.8" />
<polygon points="220.00,226.60 216.75,226.98 217.50,224.49" fill="#111"/>
<line x1="246.40" y1="224.00" x2="259.33" y2="230.63" stroke="#111" stroke-width="0.8" />
<polygon points="262.00,232.00 258.74,231.79 259.92,229.47" fill="#111"/>
<rect x="294.90" y="187.50" width="242.90" height="148.80" fill="none" stroke="#707070" stroke-width="1"/>
<line x1="294.90" y1="336.30" x2="294.90" y2="339.30" stroke="#707070" stroke-width="1" />
<line x1="294.90" y1="187.50" x2="294.90" y2="190.50" stroke="#707070" stroke-width="1" />
<text x="294.90" y="346.60" text-anchor="middle" >160</text>
<line x1="319.19" y1="336.30" x2="319.19" y2="337.90" stroke="#707070" stroke-width="1" />
<line x1="319.19" y1="187.50" x2="319.19" y2="189.10" stroke="#707070" stroke-width="1" />
<line x1="343.48" y1="336.30" x2="343.48" y2="339.30" stroke="#707070" stroke-width="1" />
<line x1="343.48" y1="187.50" x2="343.48" y2="190.50" stroke="#707070" stroke-width="1" />
<text x="343.48" y="346.60" text-anchor="middle" >180</text>
<line x1="367.77" y1="336.30" x2="367.77" y2="337.90" stroke="#707070" stroke-width="1" />
<line x1="367.77" y1="187.50" x2="367.77" y2="189.10" stroke="#707070" stroke-width="1" />
<line x1="392.06" y1="336.30" x2="392.06" y2="339.30" stroke="#707070" stroke-width="1" />
<line x1="392.06" y1="187.50" x2="392.06" y2="190.50" stroke="#707070" stroke-width="1" />
<text x="392.06" y="346.60" text-anchor="middle" >200</text>
<line x1="416.35" y1="336.30" x2="416.35" y2="337.90" stroke="#707070" stroke-width="1" />
<line x1="416.35" y1="187.50" x2="416.35" y2="189.10" stroke="#707070" stroke-width="1" />
<line x1="440.64" y1="336.30" x2="440.64" y2="339.30" stroke="#707070" stroke-width="1" />
<line x1="440.64" y1="187.50" x2="440.64" y2="190.50" stroke="#707070" stroke-width="1" />
<text x="440.64" y="346.60" text-anchor="middle" >220</text>
<line x1="464.93" y1="336.30" x2="464.93" y2="337.90" stroke="#707070" stroke-width="1" />
<line x1="464.93" y1="187.50" x2="464.93" y2="189.10" stroke="#707070" stroke-width="1" />
<line x1="489.22" y1="336.30" x2="489.22" y2="339.30" stroke="#707070" stroke-width="1" />
<line x1="489.22" y1="187.50" x2="489.22" y2="190.50" stroke="#707070" stroke-width="1" />
<text x="489.22" y="346.60" text-anchor="middle" >240</text>
<line x1="513.51" y1="336.30" x2="513.51" y2="337.90" stroke="#707070" stroke-width="1" />
<line x1="513.51" y1="187.50" x2="513.51" y2="189.10" stroke="#707070" stroke-width="1" />
<line x1="537.80" y1="336.30" x2="537.80" y2="339.30" stroke="#707070" stroke-width="1" />
<line x1="537.80" y1="187.50" x2="537.80" y2="190.50" stroke="#707070" stroke-width="1" />
<text x="537.80" y="346.60" text-anchor="middle" >260</text>
<line x1="291.90" y1="336.30" x2="294.90" y2="336.30" stroke="#707070" stroke-width="1" />
<line x1="534.80" y1="336.30" x2="537.80" y2="336.30" stroke="#707070" stroke-width="1" />
<text x="290.30" y="338.35" text-anchor="end" >0</text>
<line x1="293.30" y1="321.42" x2="294.90" y2="321.42" stroke="#707070" stroke-width="1" />
<line x1="536.20" y1="321.42" x2="537.80" y2="321.42" stroke="#707070" stroke-width="1" />
<line x1="291.90" y1="306.54" x2="294.90" y2="306.54" stroke="#707070" stroke-width="1" />
<line x1="534.80" y1="306.54" x2="537.80" y2="306.54" stroke="#707070" stroke-width="1" />
<text x="290.30" y="308.59" text-anchor="end" >1</text>
<line x1="293.30" y1="291.66" x2="294.90" y2="291.66" stroke="#707070" stroke-width="1" />
<line x1="536.20" y1="291.66" x2="537.80" y2="291.66" stroke="#707070" stroke-width="1" />
<line x1="291.90" y1="276.78" x2="294.90" y2="276.78" stroke="#707070" stroke-width="1" />
<line x1="534.80" y1="276.78" x2="537.80" y2="276.78" stroke="#707070" stroke-width="1" />
<text x="290.30" y="278.83" text-anchor="end" >2</text>
<line x1="293.30" y1="261.90" x2="294.90" y2="261.90" stroke="#707070" stroke-width="1" />
<line x1="536.20" y1="261.90" x2="537.80" y2="261.90" stroke="#707070" stroke-width="1" />
<line x1="291.90" y1="247.02" x2="294.90" y2="247.02" stroke="#707070" stroke-width="1" />
<line x1="534.80" y1="247.02" x2="537.80" y2="247.02" stroke="#707070" stroke-width="1" />
<text x="290.30" y="249.07" text-anchor="end" >3</text>
<line x1="293.30" y1="232.14" x2="294.90" y2="232.14" stroke="#707070" stroke-width="1" />
<line x1="536.20" y1="232.14" x2="537.80" y2="232.14" stroke="#707070" stroke-width="1" />
<line x1="291.90" y1="217.26" x2="294.90" y2="217.26" stroke="#707070" stroke-width="1" />
<line x1="534.80" y1="217.26" x2="537.80" y2="217.26" stroke="#707070" stroke-width="1" />
<text x="290.30" y="219.31" text-anchor="end" >4</text>
<line x1="293.30" y1="202.38" x2="294.90" y2="202.38" stroke="#707070" stroke-width="1" />
<line x1="536.20" y1="202.38" x2="537.80" y2="202.38" stroke="#707070" stroke-width="1" />
<line x1="291.90" y1="187.50" x2="294.90" y2="187.50" stroke="#707070" stroke-width="1" />
<line x1="534.80" y1="187.50" x2="537.80" y2="187.50" stroke="#707070" stroke-width="1" />
<text x="290.30" y="189.55" text-anchor="end" >5</text>
<text x="415.65" y="361.30" text-anchor="middle" >DOY</text>
<text x="0" y="0" text-anchor="middle" transform="translate(281.20,267.20) rotate(-90)">LAI</text>
<clipPath id="cd"><rect x="294.9" y="187.5" width="242.9" height="148.8"/></clipPath>
<g stroke="#606060" stroke-width="0.5" clip-path="url(#cd)"><line x1="520.90" y1="232.30" x2="520.90" y2="258.30"/><line x1="523.50" y1="232.30" x2="523.50" y2="258.30"/><line x1="526.10" y1="232.30" x2="526.10" y2="258.30"/><line x1="528.70" y1="232.30" x2="528.70" y2="258.30"/><line x1="531.30" y1="232.30" x2="531.30" y2="258.30"/><line x1="533.90" y1="232.30" x2="533.90" y2="258.30"/><line x1="536.50" y1="232.30" x2="536.50" y2="258.30"/><line x1="539.10" y1="232.30" x2="539.10" y2="258.30"/><line x1="541.70" y1="232.30" x2="541.70" y2="258.30"/><line x1="544.30" y1="232.30" x2="544.30" y2="258.30"/><line x1="546.90" y1="232.30" x2="546.90" y2="258.30"/><line x1="549.50" y1="232.30" x2="549.50" y2="258.30"/><line x1="552.10" y1="232.30" x2="552.10" y2="258.30"/><line x1="520.90" y1="232.30" x2="552.10" y2="232.30"/><line x1="520.90" y1="234.90" x2="552.10" y2="234.90"/><line x1="520.90" y1="237.50" x2="552.10" y2="237.50"/><line x1="520.90" y1="240.10" x2="552.10" y2="240.10"/><line x1="520.90" y1="242.70" x2="552.10" y2="242.70"/><line x1="520.90" y1="245.30" x2="552.10" y2="245.30"/><line x1="520.90" y1="247.90" x2="552.10" y2="247.90"/><line x1="520.90" y1="250.50" x2="552.10" y2="250.50"/><line x1="520.90" y1="253.10" x2="552.10" y2="253.10"/><line x1="520.90" y1="255.70" x2="552.10" y2="255.70"/><line x1="520.90" y1="258.30" x2="552.10" y2="258.30"/></g>
<rect x="293.40" y="332.72" width="3.0" height="3.0"/>
<rect x="295.83" y="332.54" width="3.0" height="3.0"/>
<rect x="298.26" y="332.35" width="3.0" height="3.0"/>
<rect x="300.69" y="332.12" width="3.0" height="3.0"/>
<rect x="303.12" y="331.88" width="3.0" height="3.0"/>
<rect x="305.54" y="331.61" width="3.0" height="3.0"/>
<rect x="307.97" y="331.31" width="3.0" height="3.0"/>
<rect x="310.40" y="330.97" width="3.0" height="3.0"/>
<rect x="312.83" y="330.57" width="3.0" height="3.0"/>
<rect x="315.26" y="330.06" width="3.0" height="3.0"/>
<rect x="317.69" y="329.48" width="3.0" height="3.0"/>
<rect x="320.12" y="328.89" width="3.0" height="3.0"/>
<rect x="322.55" y="328.33" width="3.0" height="3.0"/>
<rect x="324.98" y="327.81" width="3.0" height="3.0"/>
<rect x="327.41" y="327.28" width="3.0" height="3.0"/>
<rect x="329.83" y="326.73" width="3.0" height="3.0"/>
<rect x="332.26" y="326.13" width="3.0" height="3.0"/>
<rect x="334.69" y="325.46" width="3.0" height="3.0"/>
<rect x="337.12" y="324.77" width="3.0" height="3.0"/>
<rect x="339.55" y="324.06" width="3.0" height="3.0"/>
<rect x="341.98" y="323.35" width="3.0" height="3.0"/>
<rect x="344.41" y="322.68" width="3.0" height="3.0"/>
<rect x="346.84" y="321.88" width="3.0" height="3.0"/>
<rect x="349.27" y="320.81" width="3.0" height="3.0"/>
<rect x="351.70" y="319.03" width="3.0" height="3.0"/>
<rect x="354.12" y="317.24" width="3.0" height="3.0"/>
<rect x="356.55" y="315.46" width="3.0" height="3.0"/>
<rect x="358.98" y="313.37" width="3.0" height="3.0"/>
<rect x="361.41" y="311.29" width="3.0" height="3.0"/>
<rect x="363.84" y="309.21" width="3.0" height="3.0"/>
<rect x="366.27" y="306.83" width="3.0" height="3.0"/>
<rect x="368.70" y="304.15" width="3.0" height="3.0"/>
<rect x="371.13" y="301.47" width="3.0" height="3.0"/>
<rect x="373.56" y="298.20" width="3.0" height="3.0"/>
<rect x="375.99" y="295.52" width="3.0" height="3.0"/>
<rect x="378.41" y="292.84" width="3.0" height="3.0"/>
<rect x="380.84" y="289.56" width="3.0" height="3.0"/>
<rect x="383.27" y="286.89" width="3.0" height="3.0"/>
<rect x="385.70" y="283.61" width="3.0" height="3.0"/>
<rect x="388.13" y="279.74" width="3.0" height="3.0"/>
<rect x="390.56" y="275.88" width="3.0" height="3.0"/>
<rect x="392.99" y="272.30" width="3.0" height="3.0"/>
<rect x="395.42" y="268.73" width="3.0" height="3.0"/>
<rect x="397.85" y="264.86" width="3.0" height="3.0"/>
<rect x="400.28" y="261.59" width="3.0" height="3.0"/>
<rect x="402.70" y="258.32" width="3.0" height="3.0"/>
<rect x="405.13" y="255.04" width="3.0" height="3.0"/>
<rect x="407.56" y="251.17" width="3.0" height="3.0"/>
<rect x="409.99" y="247.60" width="3.0" height="3.0"/>
<rect x="412.42" y="244.33" width="3.0" height="3.0"/>
<rect x="414.85" y="240.46" width="3.0" height="3.0"/>
<rect x="417.28" y="237.19" width="3.0" height="3.0"/>
<rect x="419.71" y="233.91" width="3.0" height="3.0"/>
<rect x="422.14" y="230.64" width="3.0" height="3.0"/>
<rect x="424.57" y="227.96" width="3.0" height="3.0"/>
<rect x="427.00" y="225.58" width="3.0" height="3.0"/>
<rect x="429.42" y="223.20" width="3.0" height="3.0"/>
<rect x="431.85" y="221.41" width="3.0" height="3.0"/>
<rect x="434.28" y="219.33" width="3.0" height="3.0"/>
<rect x="436.71" y="217.55" width="3.0" height="3.0"/>
<rect x="439.14" y="215.76" width="3.0" height="3.0"/>
<rect x="441.57" y="214.57" width="3.0" height="3.0"/>
<rect x="444.00" y="213.68" width="3.0" height="3.0"/>
<rect x="446.43" y="212.78" width="3.0" height="3.0"/>
<rect x="448.86" y="214.57" width="3.0" height="3.0"/>
<rect x="451.28" y="213.68" width="3.0" height="3.0"/>
<rect x="453.71" y="213.08" width="3.0" height="3.0"/>
<rect x="456.14" y="212.78" width="3.0" height="3.0"/>
<rect x="458.57" y="212.78" width="3.0" height="3.0"/>
<rect x="461.00" y="212.89" width="3.0" height="3.0"/>
<rect x="463.43" y="213.08" width="3.0" height="3.0"/>
<rect x="465.86" y="213.27" width="3.0" height="3.0"/>
<rect x="468.29" y="213.50" width="3.0" height="3.0"/>
<rect x="470.72" y="213.85" width="3.0" height="3.0"/>
<rect x="473.15" y="214.48" width="3.0" height="3.0"/>
<rect x="475.57" y="215.16" width="3.0" height="3.0"/>
<rect x="478.00" y="215.72" width="3.0" height="3.0"/>
<rect x="480.43" y="216.36" width="3.0" height="3.0"/>
<rect x="482.86" y="217.42" width="3.0" height="3.0"/>
<rect x="485.29" y="218.06" width="3.0" height="3.0"/>
<rect x="487.72" y="218.44" width="3.0" height="3.0"/>
<rect x="490.15" y="219.21" width="3.0" height="3.0"/>
<rect x="492.58" y="220.22" width="3.0" height="3.0"/>
<rect x="495.01" y="221.32" width="3.0" height="3.0"/>
<rect x="497.44" y="222.60" width="3.0" height="3.0"/>
<rect x="499.86" y="224.25" width="3.0" height="3.0"/>
<rect x="502.29" y="225.52" width="3.0" height="3.0"/>
<rect x="504.72" y="226.47" width="3.0" height="3.0"/>
<rect x="507.15" y="227.15" width="3.0" height="3.0"/>
<rect x="509.58" y="227.75" width="3.0" height="3.0"/>
<rect x="512.01" y="228.54" width="3.0" height="3.0"/>
<rect x="514.44" y="229.45" width="3.0" height="3.0"/>
<rect x="516.87" y="230.32" width="3.0" height="3.0"/>
<rect x="519.30" y="231.24" width="3.0" height="3.0"/>
<rect x="521.73" y="232.23" width="3.0" height="3.0"/>
<rect x="524.15" y="233.41" width="3.0" height="3.0"/>
<rect x="526.58" y="234.92" width="3.0" height="3.0"/>
<rect x="529.01" y="236.46" width="3.0" height="3.0"/>
<rect x="531.44" y="238.08" width="3.0" height="3.0"/>
<rect x="533.87" y="240.16" width="3.0" height="3.0"/>
<rect x="536.30" y="243.14" width="3.0" height="3.0"/>
<rect x="534.2" y="243.6" width="3.8" height="3.8" fill="#ff0000"/>
<line x1="506.80" y1="286.80" x2="529.11" y2="251.69" stroke="#333" stroke-width="0.6" />
<polygon points="530.50,249.50 529.87,252.18 528.35,251.21" fill="#333"/>
<text x="458.00" y="292.00" text-anchor="start" >Local maximum</text>
<text x="518.30" y="220.60" text-anchor="start" >End</text>
<text x="515.40" y="205.70" text-anchor="start" >(d)</text>
</svg></body></html>
